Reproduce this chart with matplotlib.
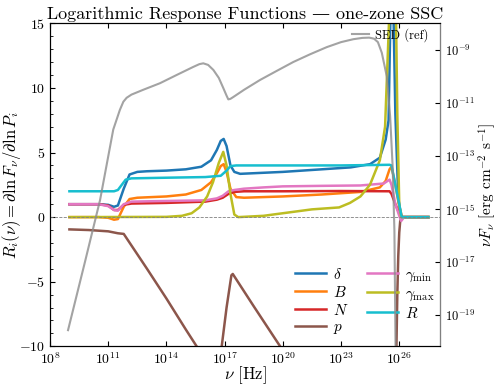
"""Logarithmic response functions of a one-zone SSC model, with the reference SED."""
import matplotlib
matplotlib.use("Agg")
import matplotlib.pyplot as plt
import matplotlib.ticker as mticker
import numpy as np

plt.rcParams["font.family"] = ["cmr10", "DejaVu Serif"]
plt.rcParams["mathtext.fontset"] = "cm"
plt.rcParams["axes.formatter.use_mathtext"] = True

# response functions (log10 nu -> R_i)
lg_delta = [9, 10.5, 11.0, 11.3, 11.5, 11.8, 12.1, 12.5, 13, 14, 15, 15.8, 16.3, 16.6, 16.8, 16.95,
            17.1, 17.3, 17.5, 17.8, 20, 22, 23.5, 24.5, 25.0, 25.3, 25.45, 25.55, 25.7, 25.8, 25.95, 26.1, 27.5]
r_delta = [1.0, 1.0, 0.95, 0.8, 0.9, 2.2, 3.3, 3.5, 3.55, 3.6, 3.7, 3.9, 4.4, 5.2, 5.9, 6.05,
           5.5, 4.0, 3.5, 3.35, 3.5, 3.7, 3.85, 4.1, 4.6, 6.0, 7.5, 16.0, 16.0, 8.0, 1.5, 0.0, 0.0]

lg_B = [9, 10.5, 11.0, 11.3, 11.5, 11.8, 12.1, 12.5, 14, 15, 15.8, 16.3, 16.6, 16.8, 16.95, 17.1,
        17.3, 17.6, 18, 20, 22, 24, 25.0, 25.3, 25.5, 25.6, 25.8, 26.0, 26.15, 27.5]
r_B = [0.0, 0.0, -0.05, -0.2, -0.15, 0.8, 1.4, 1.5, 1.6, 1.75, 2.1, 2.7, 3.4, 3.95, 4.1, 3.5,
       2.2, 1.55, 1.5, 1.6, 1.75, 1.95, 2.3, 2.8, 3.7, 3.9, 2.5, 0.8, 0.0, 0.0]

lg_N = [9, 10.5, 11.0, 11.3, 11.5, 11.8, 12.2, 14, 16, 16.6, 16.9, 17.2, 17.5, 18, 20, 23,
        25.5, 25.6, 25.8, 26.0, 26.15, 27.5]
r_N = [1.0, 1.0, 0.9, 0.55, 0.55, 0.95, 1.05, 1.1, 1.2, 1.35, 1.5, 1.8, 1.95, 2.0, 2.0, 2.02,
       2.0, 1.8, 1.0, 0.3, 0.0, 0.0]

lg_p = [9, 10, 11, 11.5, 11.8, 12.2, 13, 14, 15, 15.6, 16.0, 16.3, 16.6, 16.85, 17.1, 17.35,
        17.42, 17.55, 18.5, 19.86, 21, 23, 25, 25.6, 25.85, 25.9, 25.95, 26.0, 26.05, 26.15, 27.5]
r_p = [-0.95, -1.0, -1.1, -1.25, -1.3, -2.2, -4.0, -6.3, -8.7, -10.1, -11.0, -11.5, -11.2, -10.0, -7.0, -4.5,
       -4.4, -4.7, -6.9, -10.0, -12.6, -17.2, -21.8, -23.0, -10.5, -6.0, -3.0, -1.2, -0.3, 0.0, 0.0]

lg_gmin = [9, 10.5, 11.0, 11.3, 11.5, 11.8, 12.2, 14, 16, 16.6, 16.9, 17.2, 17.5, 18, 19, 20, 22, 24,
           25.2, 25.5, 25.6, 25.8, 26.0, 26.1, 26.25, 27.5]
r_gmin = [1.0, 1.0, 0.85, 0.55, 0.5, 1.0, 1.2, 1.25, 1.3, 1.45, 1.65, 2.0, 2.1, 2.2, 2.3, 2.38, 2.42, 2.45,
          2.6, 2.9, 2.5, 1.0, 0.1, -0.3, 0.0, 0.0]

lg_gmax = [9, 14, 14.8, 15.3, 15.7, 16.1, 16.4, 16.7, 16.93, 17.1, 17.3, 17.5, 17.7, 19, 20.5, 21.5,
           22.9, 23.46, 24.0, 24.49, 25.0, 25.27, 25.47, 25.6, 25.75, 25.9, 26.0, 26.1, 27.5]
r_gmax = [0.0, 0.02, 0.1, 0.3, 0.75, 1.6, 2.7, 4.2, 5.05, 4.0, 1.8, 0.2, 0.0, 0.1, 0.4, 0.6,
          0.75, 1.1, 1.6, 2.5, 4.4, 7.0, 15.0, 25.0, 25.0, 8.0, 1.0, 0.0, 0.0]

lg_R = [9, 11.3, 11.5, 11.7, 11.9, 12.2, 14, 16, 16.8, 17.1, 17.3, 17.6, 20, 23, 25.5, 25.6, 26.13, 27.5]
r_R = [2.0, 2.0, 2.1, 2.5, 2.9, 3.0, 3.05, 3.1, 3.2, 3.6, 3.95, 4.0, 4.0, 4.0, 4.05, 4.0, 0.0, 0.0]

# reference SED (log10 nu -> log10 nuFnu)
lg_sed = [8.93, 9.8, 10.58, 11.26, 11.6, 11.78, 11.95, 12.2, 12.8, 13.67, 14.5, 15.37, 15.7, 15.9,
          16.15, 16.42, 16.7, 16.93, 17.1, 17.19, 17.3, 17.45, 18.0, 18.82, 19.7, 20.54, 21.4, 22.26,
          23.0, 23.63, 24.1, 24.45, 24.7, 24.9, 25.1, 25.36, 25.53, 25.66, 25.75, 25.82]
logf_sed = [-19.57, -17.0, -14.66, -12.0, -11.26, -10.95, -10.8, -10.68, -10.5, -10.25, -9.95, -9.64, -9.53,
            -9.5, -9.56, -9.75, -10.05, -10.43, -10.72, -10.86, -10.84, -10.77, -10.5, -10.13, -9.78,
            -9.45, -9.16, -8.89, -8.7, -8.59, -8.54, -8.53, -8.57, -8.7, -9.1, -10.0, -11.5, -13.4,
            -15.8, -21.0]

series = [
    (r"$\delta$", lg_delta, r_delta, "C0"),
    (r"$B$", lg_B, r_B, "C1"),
    (r"$N$", lg_N, r_N, "C3"),
    (r"$p$", lg_p, r_p, "C5"),
    (r"$\gamma_{\rm min}$", lg_gmin, r_gmin, "C6"),
    (r"$\gamma_{\rm max}$", lg_gmax, r_gmax, "C8"),
    (r"$R$", lg_R, r_R, "C9"),
]

fig = plt.figure(figsize=(4.98, 3.86), dpi=100)
ax = fig.add_axes([0.1004, 0.1028, 0.783, 0.8368])

for label, lg, r, color in series:
    ax.plot(10.0 ** np.array(lg), r, color=color, lw=1.8, label=label)
ax.axhline(0.0, color="0.5", lw=0.6, ls="--")

ax.set_xscale("log")
ax.set_xlim(1e8, 1.25e28)
ax.set_ylim(-10, 15)
ax.xaxis.set_major_locator(mticker.FixedLocator(10.0 ** np.arange(8, 27, 3)))
ax.xaxis.set_minor_locator(mticker.NullLocator())
ax.yaxis.set_major_locator(mticker.MultipleLocator(5))
ax.yaxis.set_minor_locator(mticker.MultipleLocator(1))
ax.tick_params(which="both", direction="in", top=True, labelsize=10)
ax.set_xlabel(r"$\nu$ [Hz]", fontsize=12, labelpad=-2)
ax.set_ylabel(r"$R_i(\nu) = \partial\ln F_\nu/\partial\ln P_i$", fontsize=12, labelpad=-3)
ax.set_title("Logarithmic Response Functions — one-zone SSC", fontsize=13, pad=3)
ax.legend(loc="lower right", bbox_to_anchor=(1.023, -0.012), ncol=2, frameon=False,
          fontsize=11, handlelength=2.0, labelspacing=0.2, columnspacing=1.2, handletextpad=0.5)

ax2 = ax.twinx()
ax2.plot(10.0 ** np.array(lg_sed), 10.0 ** np.array(logf_sed), color="0.55", alpha=0.8, lw=1.5,
         label="SED (ref)")
ax2.set_yscale("log")
ax2.set_ylim(10 ** -20.18, 10 ** -7.99)
ax2.yaxis.set_major_locator(mticker.FixedLocator(10.0 ** np.arange(-19, -8, 2)))
ax2.yaxis.set_minor_locator(mticker.NullLocator())
ax2.tick_params(direction="in", labelsize=9)
ax2.spines["right"].set_color("0.5")
ax2.set_ylabel(r"$\nu F_\nu$ [erg cm$^{-2}$ s$^{-1}$]", fontsize=11, labelpad=1)
ax2.legend(loc="upper right", bbox_to_anchor=(1.0, 1.02), frameon=False, fontsize=9,
           handlelength=1.4, handletextpad=0.5)

fig.savefig("out.png", dpi=100)
